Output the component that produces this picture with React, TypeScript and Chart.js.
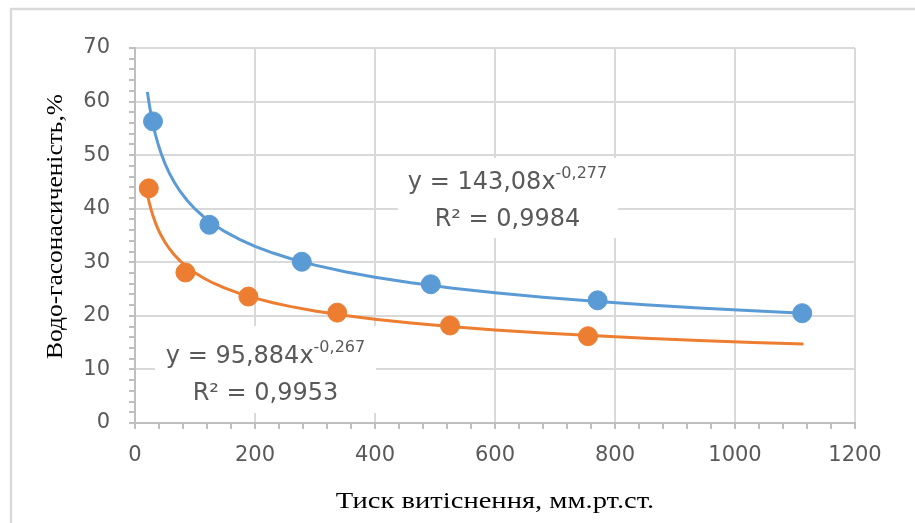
import React, { useEffect, useRef } from "react";
import { Chart, registerables } from "chart.js";

Chart.register(...registerables);

// Measured points
const blueX = [30, 124, 278, 493, 771, 1112];
const blueY = [56.3, 37.0, 30.1, 25.9, 22.9, 20.5];
const orangeX = [23, 84, 189, 337, 525, 755];
const orangeY = [43.8, 28.1, 23.6, 20.6, 18.2, 16.2];

// Trendline equations shown on the chart: y = a * x^b
const blueA = 143.08;
const blueB = -0.277;
const orangeA = 95.884;
const orangeB = -0.267;
const trendX = [20.7, 22, 24, 27, 30, 34, 38, 43, 50, 57, 65, 75, 87, 100, 115, 130, 150, 175, 200, 230, 260, 300, 350, 400, 460, 530, 600, 680, 760, 850, 940, 1030, 1114];

const xTicks = [0, 200, 400, 600, 800, 1000, 1200];
const yTicks = [0, 10, 20, 30, 40, 50, 60, 70];

const blueLabel = ["y = 143,08x", "-0,277", "R² = 0,9984"];
const orangeLabel = ["y = 95,884x", "-0,267", "R² = 0,9953"];

const xTitle = "Тиск витіснення, мм.рт.ст.";
const yTitle = "Водо-гасонасиченість,%";

const BLUE = "#5b9bd5";
const ORANGE = "#ed7d31";
const TEXT = "#595959";
const GRID = "#d9d9d9";

function drawLabel(ctx: CanvasRenderingContext2D, lines: string[], box: number[], cx: number, base1: number, base2: number) {
  ctx.save();
  ctx.fillStyle = "#ffffff";
  ctx.fillRect(box[0], box[1], box[2] - box[0], box[3] - box[1]);
  ctx.fillStyle = TEXT;
  ctx.textBaseline = "alphabetic";
  ctx.textAlign = "left";
  const mainFont = "24px 'DejaVu Sans'";
  const supFont = "16px 'DejaVu Sans'";
  ctx.font = mainFont;
  const w1 = ctx.measureText(lines[0]).width;
  ctx.font = supFont;
  const w2 = ctx.measureText(lines[1]).width;
  const start = cx - (w1 + w2) / 2;
  ctx.font = mainFont;
  ctx.fillText(lines[0], start, base1);
  ctx.font = supFont;
  ctx.fillText(lines[1], start + w1, base1 - 11);
  ctx.font = mainFont;
  const w3 = ctx.measureText(lines[2]).width;
  ctx.fillText(lines[2], cx - w3 / 2, base2);
  ctx.restore();
}

const decorPlugin = {
  id: "decor",
  beforeDraw(chart: any) {
    const ctx = chart.ctx;
    ctx.save();
    ctx.fillStyle = "#ffffff";
    ctx.fillRect(0, 0, chart.width, chart.height);
    ctx.strokeStyle = GRID;
    ctx.lineWidth = 2.5;
    ctx.strokeRect(11, 9, chart.width + 20, chart.height + 20);
    ctx.restore();
  },
  beforeDatasetsDraw(chart: any) {
    const ctx = chart.ctx;
    drawLabel(ctx, blueLabel, [398, 158, 618, 238], 507.5, 189, 226);
    drawLabel(ctx, orangeLabel, [155, 326, 376, 413], 265.5, 363, 400);
  },
  afterDraw(chart: any) {
    const ctx = chart.ctx;
    const area = chart.chartArea;
    ctx.save();
    ctx.fillStyle = "#000000";
    ctx.font = "24px 'Liberation Serif'";
    ctx.textAlign = "center";
    ctx.textBaseline = "alphabetic";
    // x-axis title
    ctx.save();
    ctx.translate((area.left + area.right) / 2, 508);
    ctx.scale(1.19, 1);
    ctx.fillText(xTitle, 0, 0);
    ctx.restore();
    // y-axis title
    ctx.save();
    ctx.translate(62, 226.5);
    ctx.rotate(-Math.PI / 2);
    ctx.scale(1.06, 1);
    ctx.fillText(yTitle, 0, 0);
    ctx.restore();
    ctx.restore();
  },
};

export default function App() {
  const ref = useRef<HTMLCanvasElement | null>(null);
  useEffect(() => {
    if (!ref.current) return;
    const blueTrend = trendX.map((x) => ({ x, y: blueA * Math.pow(x, blueB) }));
    const orangeTrend = trendX.map((x) => ({ x, y: orangeA * Math.pow(x, orangeB) }));
    const chart = new Chart(ref.current, {
      type: "scatter",
      data: {
        datasets: [
          {
            type: "line",
            data: blueTrend,
            borderColor: BLUE,
            borderWidth: 3,
            pointRadius: 0,
            fill: false,
            order: 3,
          } as any,
          {
            type: "line",
            data: orangeTrend,
            borderColor: ORANGE,
            borderWidth: 3,
            pointRadius: 0,
            fill: false,
            order: 4,
          } as any,
          {
            data: blueX.map((x, i) => ({ x, y: blueY[i] })),
            backgroundColor: BLUE,
            borderColor: BLUE,
            pointRadius: 9.5,
            order: 1,
          },
          {
            data: orangeX.map((x, i) => ({ x, y: orangeY[i] })),
            backgroundColor: ORANGE,
            borderColor: ORANGE,
            pointRadius: 9.5,
            order: 2,
          },
        ],
      },
      options: {
        animation: false,
        responsive: false,
        layout: { padding: { top: 48, right: 60, bottom: 0, left: 0 } },
        plugins: { legend: { display: false }, tooltip: { enabled: false } },
        scales: {
          x: {
            type: "linear",
            min: 0,
            max: 1200,
            afterBuildTicks: (scale: any) => {
              const t = [];
              for (let v = 0; v <= 1200; v += 40) t.push({ value: v });
              scale.ticks = t;
            },
            afterFit: (scale: any) => {
              scale.height = 100;
            },
            ticks: {
              autoSkip: false,
              maxRotation: 0,
              color: TEXT,
              font: { family: "'DejaVu Sans'", size: 21 },
              padding: 14,
              callback: (v: any) => (xTicks.includes(Number(v)) ? String(v) : ""),
            },
            grid: {
              color: (c: any) => (c.tick && xTicks.includes(c.tick.value) && c.tick.value !== 0 ? GRID : "rgba(0,0,0,0)"),
              lineWidth: 2,
              tickColor: "#bfbfbf",
              tickLength: 6,
              tickWidth: 2,
            },
            border: { color: "#bfbfbf", width: 2 },
            title: { display: false },
          },
          y: {
            type: "linear",
            min: 0,
            max: 70,
            afterBuildTicks: (scale: any) => {
              const t = [];
              for (let v = 0; v <= 70; v += 2) t.push({ value: v });
              scale.ticks = t;
            },
            afterFit: (scale: any) => {
              scale.width = 135;
            },
            ticks: {
              autoSkip: false,
              color: TEXT,
              font: { family: "'DejaVu Sans'", size: 21 },
              padding: 19,
              callback: (v: any) => (yTicks.includes(Number(v)) ? String(v) : ""),
            },
            grid: {
              color: (c: any) => (c.tick && yTicks.includes(c.tick.value) && c.tick.value !== 0 ? GRID : "rgba(0,0,0,0)"),
              lineWidth: 2,
              tickColor: "#bfbfbf",
              tickLength: 6,
              tickWidth: 2,
            },
            border: { color: "#bfbfbf", width: 2 },
            title: { display: false },
          },
        },
      },
      plugins: [decorPlugin],
    });
    return () => chart.destroy();
  }, []);
  return (
    <div style={{ position: "absolute", left: 0, top: 0, width: 915, height: 523 }}>
      <canvas ref={ref} width={915} height={523} style={{ width: 915, height: 523, display: "block" }} />
    </div>
  );
}
